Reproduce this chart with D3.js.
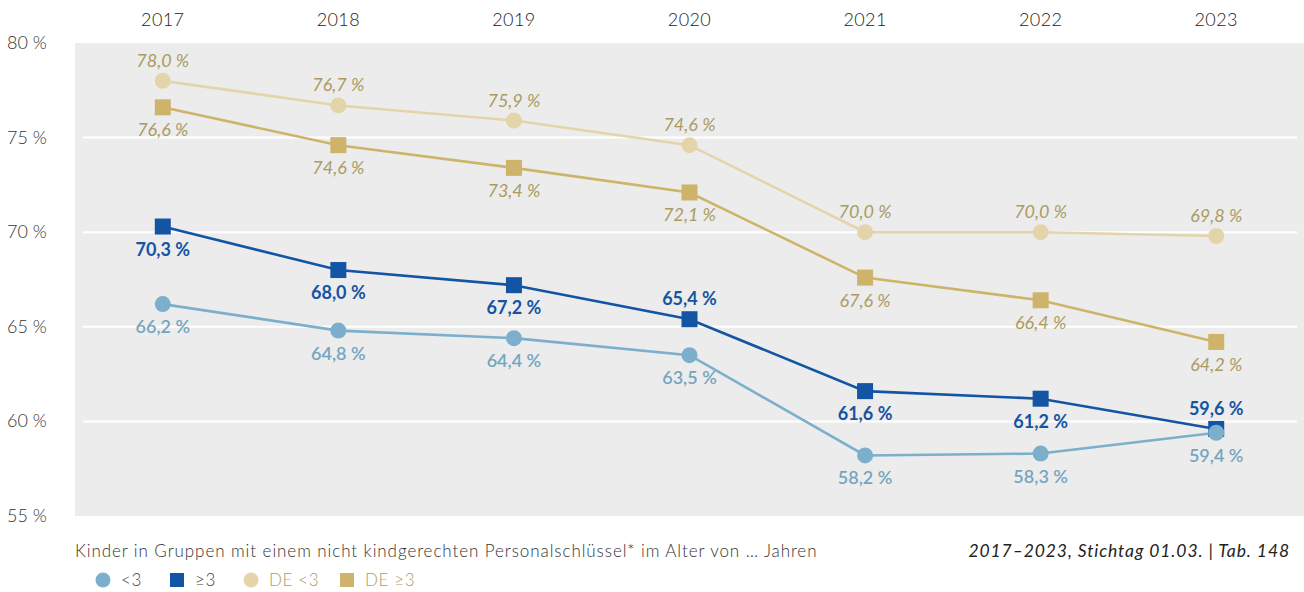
<!DOCTYPE html>
<html>
<head>
<meta charset="utf-8">
<script src="https://cdn.jsdelivr.net/npm/d3@7"></script>
<style>
  body { margin: 0; background: #fff; }
  svg { font-family: Lato, "Open Sans", sans-serif; }
</style>
</head>
<body>
<div id="chart"></div>
<script>
const years = ["2017", "2018", "2019", "2020", "2021", "2022", "2023"];
const under3 = [66.2, 64.8, 64.4, 63.5, 58.2, 58.3, 59.4];
const over3 = [70.3, 68.0, 67.2, 65.4, 61.6, 61.2, 59.6];
const deUnder3 = [78.0, 76.7, 75.9, 74.6, 70.0, 70.0, 69.8];
const deOver3 = [76.6, 74.6, 73.4, 72.1, 67.6, 66.4, 64.2];
// label placement per point: 1 = above, 0 = below
const over3Above = [0, 0, 0, 1, 0, 0, 1];
const yTicks = [55, 60, 65, 70, 75, 80];

const width = 1304, height = 592;
const margin = {top: 43, left: 75, bottom: 76, right: 0};
const innerW = width - margin.left - margin.right;
const innerH = height - margin.top - margin.bottom;

const svg = d3.select("#chart").append("svg")
    .attr("width", width)
    .attr("height", height);

const g = svg.append("g")
    .attr("transform", "translate(" + margin.left + "," + margin.top + ")");

const x = d3.scalePoint().domain(years).range([0, innerW]).padding(0.5);
const y = d3.scaleLinear().domain([55, 80]).range([innerH, 0]);

const fmt = v => d3.format(".1f")(v).replace(".", ",") + "\u00a0%";

g.append("rect")
    .attr("width", innerW)
    .attr("height", innerH)
    .attr("fill", "#ececec");

// grid
g.selectAll(".grid")
    .data(yTicks.filter(t => t > 55 && t < 80))
    .enter().append("line")
    .attr("x1", 8).attr("x2", innerW - 7)
    .attr("y1", d => y(d)).attr("y2", d => y(d))
    .attr("stroke", "#fff")
    .attr("stroke-width", 2);

// y labels
svg.selectAll(".ylab")
    .data(yTicks)
    .enter().append("text")
    .attr("x", 7)
    .attr("y", d => margin.top + y(d) + 6)
    .attr("font-size", 18)
    .attr("font-weight", 300)
    .attr("fill", "#333")
    .text(d => d + "\u00a0%");

// year labels
svg.selectAll(".xlab")
    .data(years)
    .enter().append("text")
    .attr("x", d => margin.left + x(d))
    .attr("y", 26)
    .attr("text-anchor", "middle")
    .attr("font-size", 18)
    .attr("font-weight", 300)
    .attr("letter-spacing", 0.4)
    .attr("fill", "#222")
    .text(d => d);

const series = [
    {name: "deUnder3", values: deUnder3, color: "#e3d4aa", shape: "circle", labelColor: "#ab9b63", italic: true, weight: 400, above: years.map(() => 1)},
    {name: "deOver3", values: deOver3, color: "#cdb46a", shape: "square", labelColor: "#ab9b63", italic: true, weight: 400, above: years.map(() => 0)},
    {name: "under3", values: under3, color: "#7bafcb", shape: "circle", labelColor: "#74a5c0", italic: false, weight: 600, above: years.map(() => 0)},
    {name: "over3", values: over3, color: "#1454a4", shape: "square", labelColor: "#1454a4", italic: false, weight: 700, above: over3Above}
];

const line = d3.line()
    .x((d, i) => x(years[i]))
    .y(d => y(d));

// lines
series.forEach(s => {
    g.append("path")
        .datum(s.values)
        .attr("fill", "none")
        .attr("stroke", s.color)
        .attr("stroke-width", 2.6)
        .attr("d", line);
});

// markers: dark blue squares below light blue circles
["deUnder3", "deOver3", "over3", "under3"].forEach(n => {
    const s = series.find(d => d.name === n);
    const mg = g.append("g");
    if (s.shape === "circle") {
        mg.selectAll("circle").data(s.values).enter().append("circle")
            .attr("cx", (d, i) => x(years[i]))
            .attr("cy", d => y(d))
            .attr("r", 8)
            .attr("fill", s.color);
    } else {
        mg.selectAll("rect").data(s.values).enter().append("rect")
            .attr("x", (d, i) => x(years[i]) - 8)
            .attr("y", d => y(d) - 8)
            .attr("width", 16).attr("height", 16)
            .attr("fill", s.color);
    }
});

// data labels
series.forEach(s => {
    g.append("g").selectAll("text")
        .data(s.values).enter().append("text")
        .attr("x", (d, i) => x(years[i]))
        .attr("y", (d, i) => s.above[i] ? y(d) - 14 : y(d) + 29)
        .attr("text-anchor", "middle")
        .attr("font-size", 18)
        .attr("font-style", s.italic ? "italic" : "normal")
        .attr("font-weight", s.weight)
        .attr("fill", s.labelColor)
        .text(d => fmt(d));
});

// captions
svg.append("text")
    .attr("x", 75).attr("y", 557)
    .attr("font-size", 17)
    .attr("font-weight", 300)
    .attr("letter-spacing", 0.92)
    .attr("fill", "#333")
    .text("Kinder in Gruppen mit einem nicht kindgerechten Personalschlüssel* im Alter von … Jahren");

svg.append("text")
    .attr("x", 1290).attr("y", 557)
    .attr("text-anchor", "end")
    .attr("font-size", 17.5)
    .attr("font-style", "italic")
    .attr("letter-spacing", 0.9)
    .attr("fill", "#222")
    .text("2017–2023, Stichtag 01.03. | Tab. 148");

// legend
const legend = [
    {label: "<3", color: "#7bafcb", shape: "circle", text: "#444", x: 103},
    {label: "≥3", color: "#1454a4", shape: "square", text: "#444", x: 177},
    {label: "DE <3", color: "#e3d4aa", shape: "circle", text: "#ab9b63", x: 251},
    {label: "DE ≥3", color: "#cdb46a", shape: "square", text: "#ab9b63", x: 347}
];
const lg = svg.append("g");
legend.forEach(l => {
    if (l.shape === "circle") {
        lg.append("circle").attr("cx", l.x).attr("cy", 580).attr("r", 7.5).attr("fill", l.color);
    } else {
        lg.append("rect").attr("x", l.x - 7).attr("y", 573).attr("width", 14).attr("height", 14).attr("fill", l.color);
    }
    lg.append("text")
        .attr("x", l.x + 18).attr("y", 586)
        .attr("font-size", 17)
        .attr("font-weight", 300)
        .attr("letter-spacing", 0.6)
        .attr("fill", l.text)
        .text(l.label);
});
</script>
</body>
</html>
